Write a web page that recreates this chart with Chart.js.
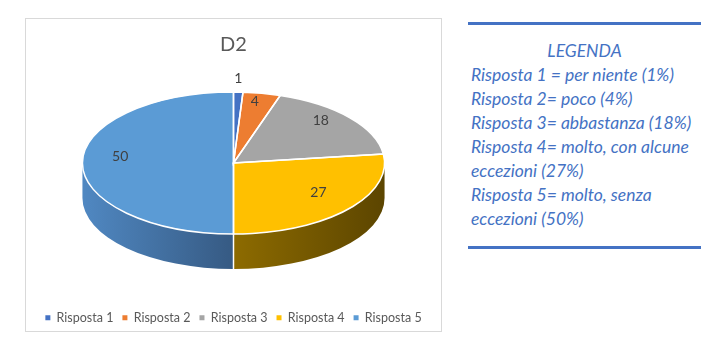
<!DOCTYPE html>
<html>
<head>
<meta charset="utf-8">
<script src="https://cdn.jsdelivr.net/npm/chart.js@4"></script>
<style>
  body { margin: 0; background: #fff; width: 715px; height: 362px; position: relative; overflow: hidden; font-family: Lato, "Open Sans", sans-serif; }
  #frame { position: absolute; left: 25px; top: 18px; width: 415px; height: 312px; border: 1px solid #d9d9d9; }
  #wrap { position: absolute; left: 26px; top: 19px; width: 415px; height: 315px; }
  #note { position: absolute; left: 468px; top: 22px; width: 230px; padding: 14px 0 15px 3px;
          border-top: 3px solid #4472c4; border-bottom: 3px solid #4472c4;
          color: #4472c4; font-style: italic; font-size: 17.5px; line-height: 24px; white-space: nowrap; }
  #note .head { text-align: center; padding-right: 3px; }
</style>
</head>
<body>
<div id="frame"></div>
<div id="wrap"><canvas id="d2"></canvas></div>
<div id="note">
  <div class="head">LEGENDA</div>
  Risposta 1 = per niente (1%)<br>
  Risposta 2= poco (4%)<br>
  Risposta 3= abbastanza (18%)<br>
  Risposta 4= molto, con alcune<br>
  eccezioni (27%)<br>
  Risposta 5= molto, senza<br>
  eccezioni (50%)
</div>
<script>
const categories = ["Risposta 1", "Risposta 2", "Risposta 3", "Risposta 4", "Risposta 5"];
const values = [1, 4, 18, 27, 50];

const topColors = ["#4472c4", "#ed7d31", "#a5a5a5", "#ffc000", "#5b9bd5"];
const sideLight = ["#34569a", "#b35d22", "#7c7c7c", "#8d6b00", "#5088c2"];
const sideDark = ["#263f70", "#7a3f16", "#555555", "#5c4500", "#365a83"];

Chart.defaults.font.family = "Lato, 'Open Sans', sans-serif";

// squashes the pie into an ellipse and adds the side walls
const pie3d = {
  id: "pie3d",
  geom(chart) {
    const o = chart.options.plugins.pie3d;
    const a = chart.chartArea;
    const rx = (a.width / 2) * o.widthRatio;
    const ry = rx * o.tilt;
    return { cx: (a.left + a.right) / 2, cy: a.top + ry, rx: rx, ry: ry, depth: o.depth };
  },
  beforeDatasetsDraw(chart) {
    const g = this.geom(chart);
    const ctx = chart.ctx;
    const arcs = chart.getDatasetMeta(0).data;

    ctx.save();
    arcs.forEach((arc, i) => {
      const s = Math.max(arc.startAngle, 0);
      const e = Math.min(arc.endAngle, Math.PI);
      if (e <= s) return;
      const x1 = g.cx + g.rx * Math.cos(s);
      const x2 = g.cx + g.rx * Math.cos(e);
      const grad = ctx.createLinearGradient(Math.min(x1, x2), 0, Math.max(x1, x2), 0);
      if (x2 < x1) {
        grad.addColorStop(0, sideLight[i]);
        grad.addColorStop(1, sideDark[i]);
      } else {
        grad.addColorStop(0, sideLight[i]);
        grad.addColorStop(0.75, sideDark[i]);
        grad.addColorStop(1, sideDark[i]);
      }
      ctx.beginPath();
      ctx.ellipse(g.cx, g.cy, g.rx, g.ry, 0, s, e);
      ctx.ellipse(g.cx, g.cy + g.depth, g.rx, g.ry, 0, e, s, true);
      ctx.closePath();
      ctx.fillStyle = grad;
      ctx.fill();
    });
    // white joints on the side
    ctx.strokeStyle = "#fff";
    ctx.lineWidth = 1.5;
    arcs.forEach(arc => {
      const t = arc.endAngle;
      if (t > 0.01 && t < Math.PI - 0.01) {
        const x = g.cx + g.rx * Math.cos(t);
        const y = g.cy + g.ry * Math.sin(t);
        ctx.beginPath();
        ctx.moveTo(x, y);
        ctx.lineTo(x, y + g.depth);
        ctx.stroke();
      }
    });
    ctx.restore();

    const a0 = arcs[0];
    const R = a0.outerRadius;
    ctx.save();
    ctx.translate(g.cx, g.cy);
    ctx.scale(g.rx / R, g.ry / R);
    ctx.translate(-a0.x, -a0.y);
  },
  afterDatasetsDraw(chart) {
    const ctx = chart.ctx;
    ctx.restore();
    const g = this.geom(chart);
    const arcs = chart.getDatasetMeta(0).data;
    const vals = chart.data.datasets[0].data;

    ctx.save();
    ctx.strokeStyle = "#fff";
    ctx.lineWidth = 1.5;
    arcs.forEach(arc => {
      ctx.beginPath();
      ctx.moveTo(g.cx, g.cy);
      ctx.ellipse(g.cx, g.cy, g.rx, g.ry, 0, arc.startAngle, arc.endAngle);
      ctx.closePath();
      ctx.stroke();
    });

    ctx.fillStyle = "#404040";
    ctx.font = "14px Lato, 'Open Sans', sans-serif";
    ctx.textAlign = "center";
    ctx.textBaseline = "middle";
    arcs.forEach((arc, i) => {
      const mid = (arc.startAngle + arc.endAngle) / 2;
      let x, y;
      if (arc.circumference < 0.15) {
        x = g.cx + g.rx * Math.cos(mid);
        y = g.cy + g.ry * Math.sin(mid) - 14;
      } else {
        x = g.cx + 0.75 * g.rx * Math.cos(mid);
        y = g.cy + 0.78 * g.ry * Math.sin(mid) - 7;
      }
      ctx.fillText(String(vals[i]), x, y);
    });
    ctx.restore();
  }
};

new Chart(document.getElementById("d2"), {
  type: "pie",
  data: {
    labels: categories,
    datasets: [{
      data: values,
      backgroundColor: topColors,
      borderWidth: 0,
      clip: false
    }]
  },
  options: {
    responsive: true,
    maintainAspectRatio: false,
    animation: false,
    events: [],
    layout: { padding: 0 },
    plugins: {
      pie3d: { tilt: 0.47, depth: 35, widthRatio: 0.728 },
      title: {
        display: true,
        text: "D2",
        color: "#595959",
        font: { size: 20, weight: "normal" },
        padding: { top: 14, bottom: 35 }
      },
      legend: {
        position: "bottom",
        labels: {
          boxWidth: 5,
          boxHeight: 5,
          padding: 9,
          color: "#595959",
          font: { size: 12.5 }
        }
      },
      tooltip: { enabled: false }
    }
  },
  plugins: [pie3d]
});
</script>
</body>
</html>
